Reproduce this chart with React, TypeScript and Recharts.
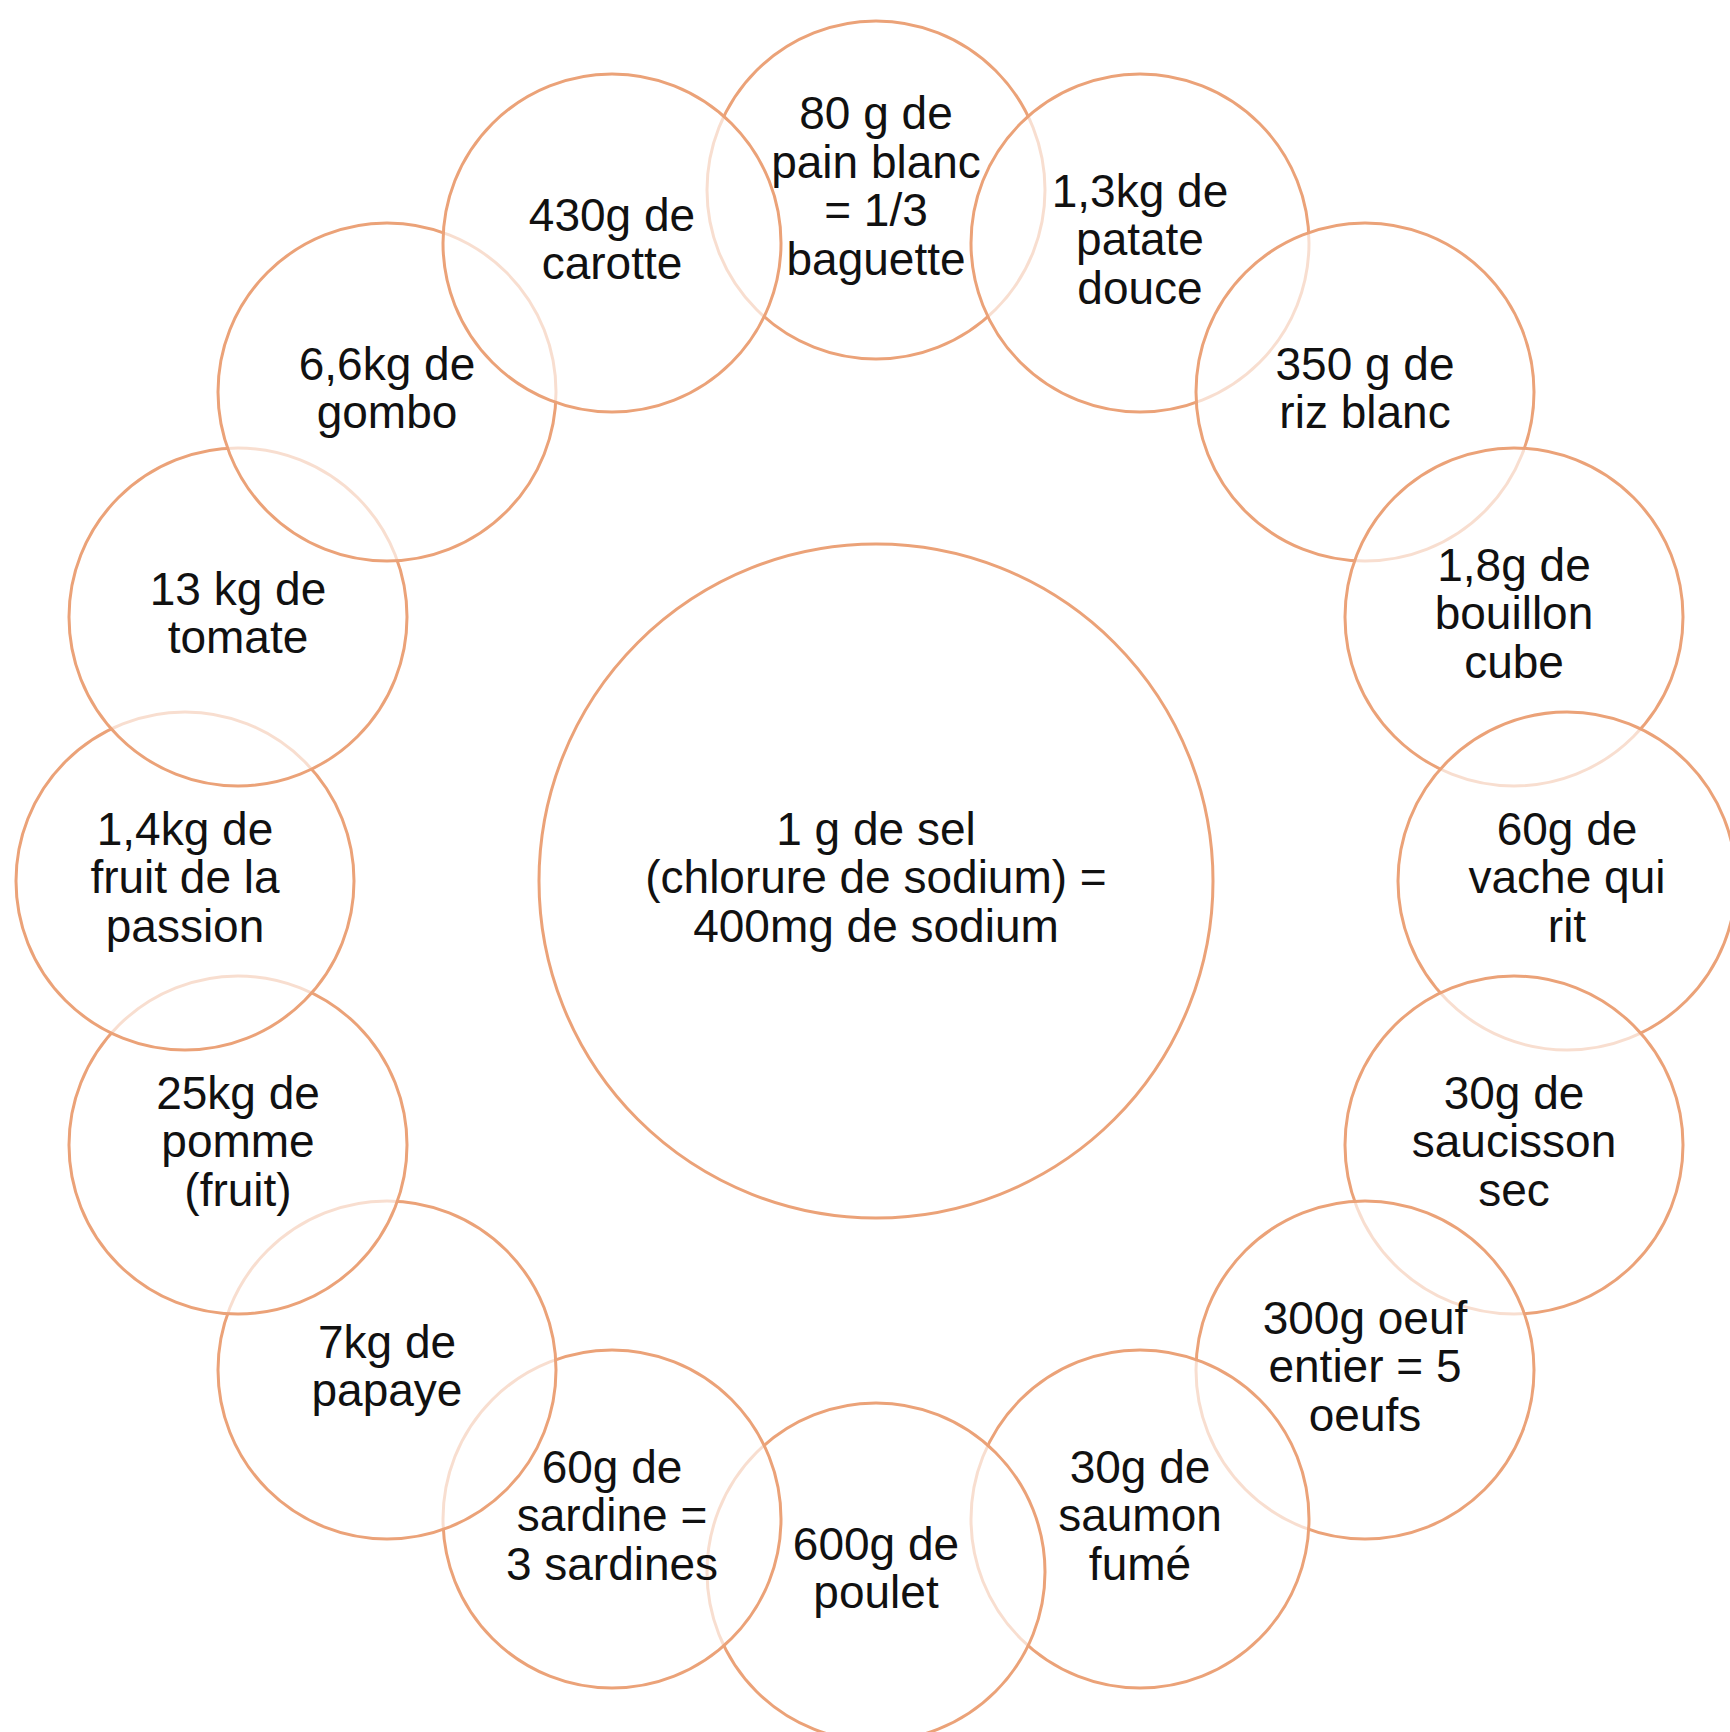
import React from 'react';
import { ScatterChart, Scatter, XAxis, YAxis } from 'recharts';

// foods around the ring, clockwise from the top (draw order matters for the overlaps)
const labels = [
  '80 g de\npain blanc\n= 1/3\nbaguette',
  '1,3kg de\npatate\ndouce',
  '350 g de\nriz blanc',
  '1,8g de\nbouillon\ncube',
  '60g de\nvache qui\nrit',
  '30g de\nsaucisson\nsec',
  '300g oeuf\nentier = 5\noeufs',
  '30g de\nsaumon\nfumé',
  '600g de\npoulet',
  '60g de\nsardine =\n3 sardines',
  '7kg de\npapaye',
  '25kg de\npomme\n(fruit)',
  '1,4kg de\nfruit de la\npassion',
  '13 kg de\ntomate',
  '6,6kg de\ngombo',
  '430g de\ncarotte',
];

// circle centres, relative to the middle circle
const xs = [0, 264, 489, 638, 691, 638, 489, 264, 0, -264, -489, -638, -691, -638, -489, -264];
const ys = [691, 638, 489, 264, 0, -264, -489, -638, -691, -638, -489, -264, 0, 264, 489, 638];

const centerLabel = '1 g de sel\n(chlorure de sodium) =\n400mg de sodium';

const STROKE = '#EBA278';
const FONT = "'Liberation Sans', Arial, sans-serif";

const ring = labels.map((label, i) => ({ x: xs[i], y: ys[i], label }));
const hub = [{ x: 0, y: 0, label: centerLabel }];

const makeCircle = (r: number) => (props: any) => (
  <circle
    cx={props.cx}
    cy={props.cy}
    r={r}
    fill="#fff"
    fillOpacity={0.65}
    stroke={STROKE}
    strokeWidth={3}
  />
);

const renderLabel = (props: any) => {
  const lines = String(props.payload.label).split('\n');
  const lh = 48.5;
  const top = props.cy - ((lines.length - 1) * lh) / 2 + 12;
  return (
    <text textAnchor="middle" fontFamily={FONT} fontSize={46} fill="#111">
      {lines.map((l, i) => (
        <tspan key={i} x={props.cx} y={top + i * lh}>
          {l}
        </tspan>
      ))}
    </text>
  );
};

export default function App() {
  return (
    <div style={{ position: 'absolute', left: 0, top: 0, background: '#fff' }}>
      <ScatterChart width={1730} height={1732} margin={{ top: 0, right: 0, bottom: 0, left: 0 }}>
        <XAxis type="number" dataKey="x" hide domain={[-876, 854]} allowDataOverflow />
        <YAxis type="number" dataKey="y" hide domain={[-851, 881]} allowDataOverflow />
        <Scatter data={hub} shape={makeCircle(337)} isAnimationActive={false} />
        <Scatter data={ring} shape={makeCircle(169)} isAnimationActive={false} />
        <Scatter data={hub} shape={renderLabel} isAnimationActive={false} />
        <Scatter data={ring} shape={renderLabel} isAnimationActive={false} />
      </ScatterChart>
    </div>
  );
}
